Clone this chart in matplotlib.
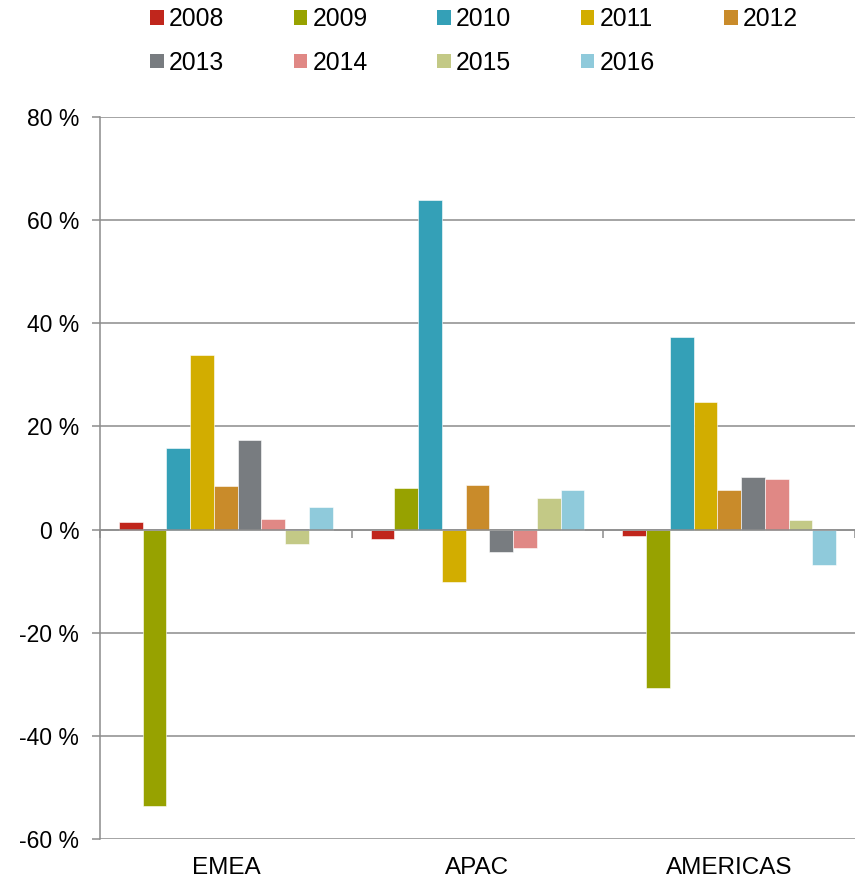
import matplotlib.pyplot as plt
from matplotlib.patches import Patch
import numpy as np

plt.rcParams['font.family'] = ['Liberation Sans', 'DejaVu Sans']

regions = ['EMEA', 'APAC', 'AMERICAS']
years = ['2008', '2009', '2010', '2011', '2012', '2013', '2014', '2015', '2016']
colors = ['#C0261C', '#97A200', '#34A0B7', '#D2AD00', '#C98B2A',
          '#787C80', '#E08885', '#C3C986', '#8FCADB']

# growth in % per region, one list per year
g2008 = [1.4, -1.8, -1.3]
g2009 = [-53.6, 8.1, -30.8]
g2010 = [15.8, 63.9, 37.3]
g2011 = [33.9, -10.1, 24.8]
g2012 = [8.4, 8.7, 7.6]
g2013 = [17.3, -4.3, 10.1]
g2014 = [2.1, -3.5, 9.9]
g2015 = [-2.8, 6.2, 1.9]
g2016 = [4.3, 7.6, -6.9]
series = [g2008, g2009, g2010, g2011, g2012, g2013, g2014, g2015, g2016]

W, H = 855, 885
fig = plt.figure(figsize=(W / 100, H / 100), dpi=100)
ax = fig.add_axes([100 / W, 1 - 839 / H, 755 / W, 722 / H])

grey = '#8c8c8c'
n = len(years)
w = 0.85 / n
centers = np.arange(len(regions)) + 0.5
for i, (vals, c) in enumerate(zip(series, colors)):
    x = centers - 0.425 + (i + 0.5) * w
    ax.bar(x, vals, width=w, color=c, edgecolor='white', linewidth=0.4, zorder=3)

ax.set_xlim(0, 3)
ax.set_ylim(-60, 80)
ax.set_yticks(np.arange(-60, 81, 20))
ax.set_yticklabels([f'{v} %' for v in range(-60, 81, 20)], fontsize=16.5)
ax.yaxis.grid(True, color=grey, linewidth=1.1, zorder=1)

ax.spines['top'].set_visible(False)
ax.spines['right'].set_visible(False)
ax.spines['left'].set_color(grey)
ax.spines['left'].set_linewidth(1.1)
ax.spines['bottom'].set_position(('data', 0))
ax.spines['bottom'].set_color(grey)
ax.spines['bottom'].set_linewidth(1.1)
ax.spines['bottom'].set_zorder(4)

ax.set_xticks([0, 1, 2, 3])
ax.set_xticklabels([])
ax.tick_params(axis='x', direction='out', length=6, width=1.1, color=grey)
ax.tick_params(axis='y', direction='out', length=6, width=1.1, color=grey, pad=9)

for c, name in zip(centers, regions):
    ax.annotate(name, xy=(c, 0), xycoords=('data', 'axes fraction'),
                xytext=(0, -13), textcoords='offset points',
                ha='center', va='top', fontsize=17.5)

# legend fills column by column, so reorder to read row by row
handles = [Patch(facecolor=c, edgecolor='none') for c in colors]
order = [0, 5, 1, 6, 2, 7, 3, 8, 4]
fig.legend([handles[i] for i in order], [years[i] for i in order],
           loc='upper left', bbox_to_anchor=(150 / W, 1 - 7 / H),
           ncol=5, frameon=False, fontsize=17.8, borderpad=0, borderaxespad=0,
           handlelength=0.55, handleheight=0.55, handletextpad=0.22,
           columnspacing=2.8, labelspacing=0.8)

fig.savefig('out.png', dpi=100)
